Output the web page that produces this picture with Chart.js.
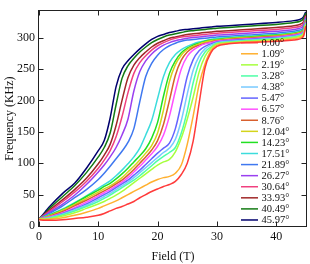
<!DOCTYPE html>
<html>
<head>
<meta charset="utf-8">
<script src="https://cdn.jsdelivr.net/npm/chart.js@4.4.1/dist/chart.umd.min.js"></script>
<style>
  html, body { margin: 0; padding: 0; background: #fff; }
  #chart { display: block; }
</style>
</head>
<body>
<canvas id="chart" width="310" height="264"></canvas>
<script>
// field grid (T) shared by every curve
const fields = [0, 1, 2, 4, 6, 8, 10, 11, 12, 13, 14, 15, 16, 17, 18, 19, 20, 21, 22, 23, 24, 25, 26, 27, 28, 29, 30, 32, 35, 40, 43, 44, 44.6, 45];

// frequency (KHz), one array per angle
const f000 = [10, 9, 9, 10, 12, 14, 17, 20, 24, 28, 31, 35, 39, 45, 50, 55, 59, 63, 66, 71, 82, 100, 135, 195, 252, 276, 286, 290, 292, 294, 296, 298, 302, 318];
const f109 = [11, 10, 11, 13, 17, 22, 28, 32, 36, 40, 45, 50, 55, 60, 65, 70, 74, 77, 79, 84, 97, 130, 175, 225, 258, 279, 288, 291, 293, 295, 298, 300, 304, 319];
const f219 = [11, 11, 12, 16, 21, 28, 35, 39, 44, 49, 55, 62, 69, 76, 83, 90, 97, 102, 106, 118, 140, 170, 205, 245, 270, 283, 290, 292, 294, 297, 300, 302, 306, 321];
const f328 = [11, 11, 13, 18, 24, 31, 39, 44, 49, 55, 61, 67, 73, 80, 88, 96, 104, 111, 117, 125, 148, 183, 228, 260, 277, 285, 291, 293, 295, 298, 301, 303, 307, 322];
const f438 = [11, 12, 14, 19, 26, 33, 42, 47, 52, 58, 64, 70, 77, 85, 93, 101, 109, 117, 124, 138, 168, 210, 248, 270, 282, 288, 292, 294, 296, 299, 302, 304, 308, 323];
const f547 = [11, 12, 14, 20, 27, 35, 45, 50, 55, 61, 67, 73, 81, 89, 98, 107, 116, 124, 132, 155, 195, 238, 265, 279, 286, 290, 293, 295, 297, 300, 303, 305, 309, 324];
const f657 = [11, 13, 15, 21, 29, 38, 48, 53, 58, 64, 70, 77, 86, 95, 105, 115, 127, 145, 175, 215, 250, 270, 280, 286, 290, 292, 294, 296, 298, 301, 304, 306, 310, 325];
const f876 = [11, 13, 16, 23, 32, 41, 51, 56, 61, 67, 73, 81, 90, 100, 110, 121, 136, 162, 200, 240, 264, 277, 284, 288, 291, 293, 295, 297, 299, 302, 305, 307, 311, 326];
const f1204 = [11, 14, 17, 25, 34, 44, 54, 59, 64, 70, 77, 86, 95, 105, 116, 128, 148, 185, 230, 257, 272, 281, 286, 290, 293, 295, 296, 298, 300, 303, 306, 308, 312, 327];
const f1423 = [11, 14, 18, 26, 36, 47, 57, 63, 68, 75, 83, 92, 102, 112, 123, 140, 165, 207, 243, 263, 276, 283, 288, 291, 294, 296, 297, 299, 301, 304, 307, 309, 313, 328];
const f1751 = [11, 15, 19, 27, 37, 48, 60, 66, 72, 80, 89, 99, 110, 124, 145, 168, 203, 238, 260, 273, 281, 286, 290, 293, 295, 297, 299, 300, 302, 305, 308, 310, 314, 329];
const f2189 = [11, 16, 21, 32, 45, 58, 74, 84, 95, 107, 119, 133, 155, 198, 238, 259, 272, 281, 287, 291, 294, 296, 297, 298, 299, 300, 301, 302, 304, 307, 310, 312, 316, 330];
const f2627 = [11, 17, 23, 35, 49, 66, 86, 97, 110, 125, 145, 170, 215, 246, 263, 274, 282, 288, 292, 295, 297, 299, 300, 301, 302, 303, 304, 305, 307, 310, 313, 315, 319, 332];
const f3064 = [11, 18, 25, 39, 54, 71, 92, 105, 120, 142, 174, 212, 243, 260, 271, 280, 287, 292, 296, 299, 301, 302, 303, 304, 305, 306, 307, 308, 310, 313, 316, 318, 322, 334];
const f3393 = [11, 19, 27, 42, 58, 76, 99, 113, 130, 160, 200, 236, 256, 268, 277, 285, 291, 295, 299, 301, 303, 305, 306, 307, 308, 309, 310, 311, 313, 316, 319, 321, 325, 336];
const f4049 = [11, 20, 30, 47, 64, 85, 110, 125, 148, 193, 235, 255, 267, 277, 285, 292, 297, 301, 304, 306, 308, 310, 311, 312, 313, 314, 315, 316, 318, 321, 324, 326, 330, 339];
const f4597 = [11, 22, 33, 52, 68, 92, 120, 136, 172, 222, 250, 263, 273, 282, 290, 297, 302, 305, 308, 310, 312, 313, 314, 315, 316, 317, 318, 319, 321, 324, 327, 329, 333, 341];

const angles = ['0.00°', '1.09°', '2.19°', '3.28°', '4.38°', '5.47°', '6.57°', '8.76°', '12.04°',
  '14.23°', '17.51°', '21.89°', '26.27°', '30.64°', '33.93°', '40.49°', '45.97°'];
const series = [f000, f109, f219, f328, f438, f547, f657, f876, f1204, f1423, f1751, f2189, f2627, f3064, f3393, f4049, f4597];
const colors = ['#ff3b3b', '#ffb030', '#a6ff3e', '#4dffa6', '#78caff', '#6464ff', '#ff50ff', '#d8602e', '#d4d41c',
  '#22e022', '#3cdcdc', '#3f78f0', '#9a40f0', '#f0407f', '#a02828', '#137a13', '#00006e'];

const xTicks = [0, 10, 20, 30, 40];
const yTicks = [0, 50, 100, 150, 200, 250, 300];

const serif = "'Liberation Serif', 'Times New Roman', serif";
Chart.defaults.font.family = serif;
Chart.defaults.font.size = 12;
Chart.defaults.color = '#111';

// frame, inward ticks and the legend inside the plot
const frameAndLegend = {
    id: 'frameAndLegend',
    afterDraw(chart) {
        const { ctx, chartArea: a, scales: { x, y } } = chart;
        const l = Math.round(a.left) - 0.5, r = Math.round(a.right) - 0.5;
        const t = Math.round(a.top) - 0.5, b = Math.round(a.bottom) + 0.5;
        ctx.save();
        ctx.strokeStyle = '#222';
        ctx.lineWidth = 1;
        ctx.strokeRect(l, t, r - l, b - t);
        ctx.beginPath();
        xTicks.forEach(v => {
            const px = Math.round(x.getPixelForValue(v)) + 0.5;
            ctx.moveTo(px, b); ctx.lineTo(px, b - 5);
            ctx.moveTo(px, t); ctx.lineTo(px, t + 5);
        });
        yTicks.forEach(v => {
            const py = Math.round(y.getPixelForValue(v)) + 0.5;
            ctx.moveTo(l, py); ctx.lineTo(l + 5, py);
            ctx.moveTo(r, py); ctx.lineTo(r - 5, py);
        });
        ctx.stroke();

        ctx.font = '10.5px ' + serif;
        ctx.textBaseline = 'middle';
        ctx.textAlign = 'left';
        chart.data.datasets.forEach((ds, i) => {
            const yy = 42.7 + i * 11.08;
            ctx.strokeStyle = ds.borderColor;
            ctx.lineWidth = 1.5;
            ctx.beginPath();
            ctx.moveTo(241, yy); ctx.lineTo(258, yy);
            ctx.stroke();
            ctx.fillStyle = '#111';
            ctx.fillText(ds.label, 261.5, yy + 0.5);
        });
        ctx.restore();
    }
};

new Chart(document.getElementById('chart'), {
    type: 'line',
    data: {
        datasets: series.map((vals, i) => ({
            label: angles[i],
            data: vals.map((v, k) => ({ x: fields[k], y: v })),
            borderColor: colors[i],
            borderWidth: 1.5,
            pointRadius: 0,
            fill: false,
            cubicInterpolationMode: 'monotone'
        }))
    },
    options: {
        responsive: false,
        animation: false,
        devicePixelRatio: 1,
        layout: { padding: { top: 1, right: 3, left: 0, bottom: 0 } },
        plugins: { legend: { display: false }, tooltip: { enabled: false } },
        scales: {
            x: {
                type: 'linear',
                min: 0,
                max: 45.2,
                grid: { display: false, drawTicks: false },
                border: { display: false },
                ticks: { padding: 4, maxRotation: 0 },
                afterBuildTicks: s => { s.ticks = xTicks.map(v => ({ value: v })); },
                afterFit: s => { s.height = 38; },
                title: { display: true, text: 'Field (T)', padding: { top: 0, bottom: 0 } }
            },
            y: {
                min: 0,
                max: 342,
                grid: { display: false, drawTicks: false },
                border: { display: false },
                ticks: { padding: 4 },
                afterBuildTicks: s => { s.ticks = yTicks.map(v => ({ value: v })); },
                afterFit: s => { s.width = 39; },
                title: { display: true, text: 'Frequency (KHz)', padding: { top: 3, bottom: 0 } }
            }
        }
    },
    plugins: [frameAndLegend]
});
</script>
</body>
</html>
